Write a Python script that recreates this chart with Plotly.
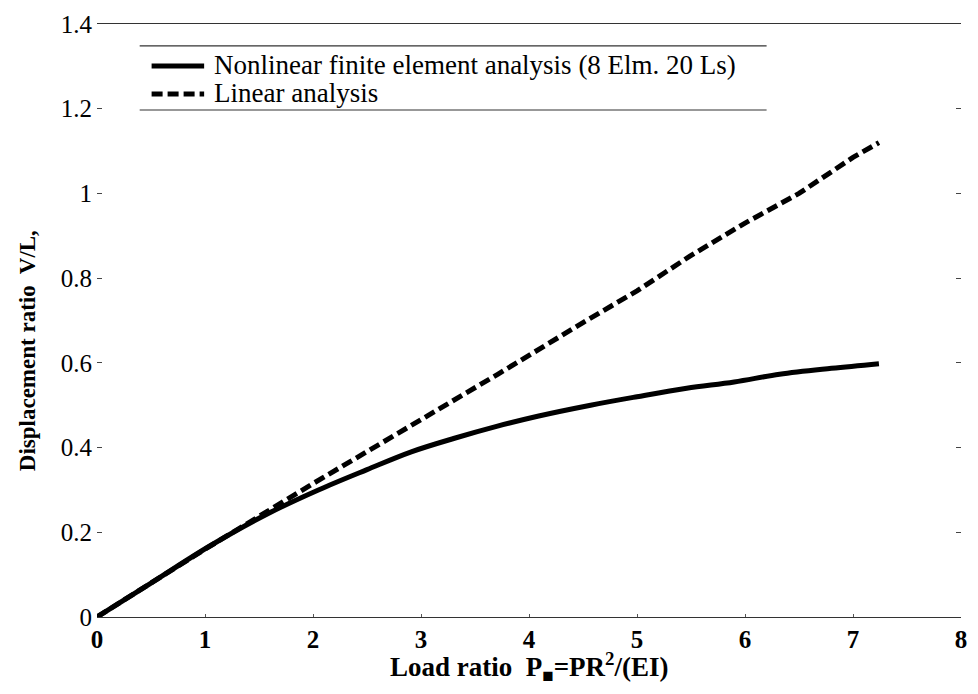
import plotly.graph_objects as go

# Load ratio vs. displacement ratio
load_nonlinear = [0.0, 0.5, 1.04, 1.59, 2.05, 2.5, 2.91, 3.31, 3.7, 4.08, 4.57, 5.0, 5.46, 5.9, 6.32, 6.8, 7.24]
disp_nonlinear = [0.0, 0.08, 0.167, 0.245, 0.30, 0.348, 0.39, 0.422, 0.45, 0.474, 0.50, 0.52, 0.54, 0.555, 0.573, 0.587, 0.598]

load_linear = [0.0, 1.0, 2.0, 3.0, 3.71, 4.5, 5.0, 5.49, 6.0, 6.5, 7.0, 7.24]
disp_linear = [0.0, 0.16, 0.315, 0.465, 0.573, 0.695, 0.77, 0.852, 0.93, 1.0, 1.085, 1.12]

x_ticks = [0, 1, 2, 3, 4, 5, 6, 7, 8]
y_ticks = [0, 0.2, 0.4, 0.6, 0.8, 1.0, 1.2, 1.4]

legend_labels = ["Nonlinear finite element analysis (8 Elm. 20 Ls)", "Linear analysis"]

SERIF = "Liberation Serif"
INK = "#000000"
DASH = "11px,5px"

fig = go.Figure()

fig.add_trace(go.Scatter(
    x=load_linear, y=disp_linear, mode="lines",
    line=dict(color=INK, width=5, dash=DASH),
    name=legend_labels[1], showlegend=False,
))
fig.add_trace(go.Scatter(
    x=load_nonlinear, y=disp_nonlinear, mode="lines",
    line=dict(color=INK, width=5, shape="spline", smoothing=1.0),
    name=legend_labels[0], showlegend=False,
))

# Hand-drawn legend: rules above and below, line samples and labels
rule = dict(color="#333333", width=1.2)
shapes = [
    dict(type="line", xref="paper", yref="paper", x0=0.0494, x1=0.775, y0=0.963, y1=0.963, line=rule),
    dict(type="line", xref="paper", yref="paper", x0=0.0494, x1=0.775, y0=0.855, y1=0.855, line=rule),
    dict(type="line", xref="paper", yref="paper", x0=0.0632, x1=0.124, y0=0.929, y1=0.929,
         line=dict(color=INK, width=5)),
    dict(type="line", xref="paper", yref="paper", x0=0.0632, x1=0.124, y0=0.882, y1=0.882,
         line=dict(color=INK, width=5, dash=DASH)),
]

annotations = [
    dict(xref="paper", yref="paper", x=0.1333, y=0.931, xanchor="left", yanchor="middle",
         text=legend_labels[0], showarrow=False, font=dict(family=SERIF, size=27, color=INK)),
    dict(xref="paper", yref="paper", x=0.1333, y=0.884, xanchor="left", yanchor="middle",
         text=legend_labels[1], showarrow=False, font=dict(family=SERIF, size=27, color=INK)),
    # axis titles
    dict(xref="paper", yref="paper", x=-0.0805, y=0.449, xanchor="center", yanchor="middle",
         text="<b>Displacement ratio  V/L,</b>", textangle=-90, showarrow=False,
         font=dict(family=SERIF, size=23, color=INK)),
    dict(xref="paper", yref="paper", x=0.501, y=-0.084, xanchor="center", yanchor="middle",
         text="<b>Load ratio  P<sub>■</sub>=PR<sup>2</sup>/(EI)</b>", showarrow=False,
         font=dict(family=SERIF, size=27, color=INK)),
]

fig.update_layout(
    width=978, height=694,
    margin=dict(l=97, r=11, t=22, b=77),
    paper_bgcolor="white", plot_bgcolor="white",
    shapes=shapes, annotations=annotations,
    showlegend=False,
    font=dict(family=SERIF, color=INK),
)

fig.update_xaxes(
    range=[0, 8], tickvals=x_ticks,
    showgrid=False, zeroline=False,
    showline=True, linecolor="#333333", linewidth=1.2, mirror=True,
    ticks="inside", ticklen=3, tickcolor="#555555",
    tickfont=dict(family=SERIF, size=25, color=INK, weight="bold"),
)
fig.update_yaxes(
    range=[0, 1.4], tickvals=y_ticks,
    showgrid=False, zeroline=False, showline=False,
    ticks="inside", ticklen=5, tickcolor="#444444", mirror="ticks",
    ticklabelstandoff=4,
    tickfont=dict(family=SERIF, size=25, color=INK),
)

fig.write_html("out.html")
